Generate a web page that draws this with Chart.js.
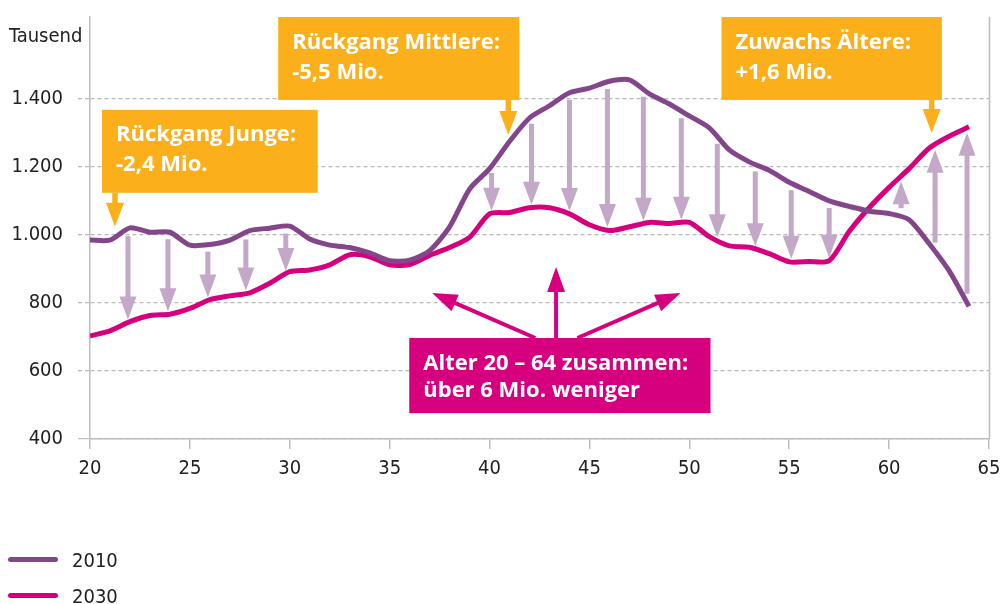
<!DOCTYPE html>
<html>
<head>
<meta charset="utf-8">
<script src="https://cdn.jsdelivr.net/npm/chart.js@4.4.1/dist/chart.umd.min.js"></script>
<style>
  html, body { margin: 0; padding: 0; background: #fff; }
  #wrap { position: relative; width: 1000px; height: 604px; overflow: hidden; }
  #legend { position: absolute; left: 0; top: 0; font-family: "Liberation Sans Narrow", "DejaVu Sans Condensed", "Open Sans", sans-serif; font-size: 20px; color: #222; }
  .item { position: absolute; left: 0; white-space: nowrap; }
  .swatch { position: absolute; left: 8px; width: 50px; height: 5px; border-radius: 3px; }
  .lbl { position: absolute; left: 72px; line-height: 22px; }
</style>
</head>
<body>
<div id="wrap">
  <canvas id="chart" width="1000" height="604"></canvas>
  <div id="legend"></div>
</div>
<script>
// Alter in Jahren
const ages = [20, 21, 22, 23, 24, 25, 26, 27, 28, 29, 30, 31, 32, 33, 34, 35, 36, 37, 38, 39, 40, 41,
  42, 43, 44, 45, 46, 47, 48, 49, 50, 51, 52, 53, 54, 55, 56, 57, 58, 59, 60, 61, 62, 63, 64];

// Bevölkerung je Altersjahr, in Tausend
const pop2010 = [985, 985, 1021, 1008, 1008, 970, 972, 985, 1013, 1020, 1026, 988, 970, 963, 947, 924,
  926, 954, 1024, 1135, 1195, 1275, 1344, 1380, 1418, 1432, 1452, 1456, 1415, 1385, 1350, 1315, 1250,
  1215, 1190, 1155, 1128, 1100, 1084, 1070, 1063, 1045, 975, 895, 790];
const pop2030 = [703, 718, 745, 763, 767, 784, 810, 821, 830, 858, 892, 897, 912, 942, 936, 912, 913,
  940, 963, 993, 1062, 1066, 1080, 1080, 1062, 1030, 1013, 1024, 1037, 1034, 1037, 995, 968, 964, 945,
  921, 922, 924, 1010, 1080, 1140, 1195, 1255, 1290, 1318];

const yTicks = [400, 600, 800, 1000, 1200, 1400];
const xTicks = [20, 25, 30, 35, 40, 45, 50, 55, 60, 65];

// Altersjahre, an denen die hellen Pfeile stehen
const arrowAges = [21.9, 23.9, 25.9, 27.8, 29.8, 40.1, 42.1, 44.0, 45.9, 47.7, 49.6, 51.4, 53.3, 55.1,
  57.0, 60.6, 62.3, 63.9];

const C2010 = '#84468a';
const C2030 = '#d6007f';
const ORANGE = '#fbb01b';
const LILAC = '#c4a8c8';
const GRID = '#b9b9b9';
const AXIS = '#bdbdbd';
const NARROW = '"Liberation Sans Narrow", "DejaVu Sans Condensed", "Open Sans", sans-serif';
const BOLD = '"Open Sans", "Noto Sans", sans-serif';

// Kästen (in Datenkoordinaten)
const notes = [
  { lines: ['Rückgang Junge:', '-2,4 Mio.'], x0: 20.6, x1: 31.4, y0: 1368, y1: 1124, ax: 21.25, tip: 1024 },
  { lines: ['Rückgang Mittlere:', '-5,5 Mio.'], x0: 29.42, x1: 41.49, y0: 1641, y1: 1397, ax: 40.94, tip: 1294 },
  { lines: ['Zuwachs Ältere:', '+1,6 Mio.'], x0: 51.61, x1: 62.64, y0: 1641, y1: 1397, ax: 62.13, tip: 1300 }
];
const total = { lines: ['Alter 20 – 64 zusammen:', 'über 6 Mio. weniger'], x0: 35.98, x1: 51.06, y0: 697, y1: 476,
  arrows: [[42.29, 697, 37.13, 829], [43.33, 697, 43.33, 906], [44.4, 697, 49.56, 829]] };

function valAt(arr, age) {
  let i = Math.floor(age - ages[0]);
  if (i < 0) i = 0;
  if (i >= arr.length - 1) return arr[arr.length - 1];
  const t = age - ages[i];
  return arr[i] + (arr[i + 1] - arr[i]) * t;
}

function arrow(ctx, x1, y1, x2, y2, w, headLen, headW, color) {
  const len = Math.hypot(x2 - x1, y2 - y1);
  ctx.save();
  ctx.translate(x1, y1);
  ctx.rotate(Math.atan2(y2 - y1, x2 - x1));
  ctx.fillStyle = color;
  ctx.fillRect(0, -w / 2, Math.max(0, len - headLen + 1), w);
  ctx.beginPath();
  ctx.moveTo(len, 0);
  ctx.lineTo(len - headLen, -headW / 2);
  ctx.lineTo(len - headLen, headW / 2);
  ctx.closePath();
  ctx.fill();
  ctx.restore();
}

function drawBox(ctx, x, y, n, color, lineGap) {
  const l = x.getPixelForValue(n.x0), r = x.getPixelForValue(n.x1);
  const t = y.getPixelForValue(n.y0), b = y.getPixelForValue(n.y1);
  ctx.fillStyle = color;
  ctx.fillRect(l, t, r - l, b - t);
  ctx.fillStyle = '#fff';
  ctx.font = 'bold 22px ' + BOLD;
  ctx.textAlign = 'left';
  ctx.textBaseline = 'alphabetic';
  n.lines.forEach((s, i) => ctx.fillText(s, l + 14, t + 31.5 + i * lineGap));
  return { l, r, t, b };
}

const annotations = {
  id: 'annotations',
  beforeDatasetsDraw(chart) {
    const { ctx, scales: { x, y } } = chart;
    arrowAges.forEach(a => {
      const px = x.getPixelForValue(a);
      const p10 = y.getPixelForValue(valAt(pop2010, a));
      const p30 = y.getPixelForValue(valAt(pop2030, a));
      if (p30 > p10) arrow(ctx, px, p10 + 7, px, p30 - 3, 5, 23, 17, LILAC);
      else arrow(ctx, px, p10 - 9, px, p30 + 5, 5, 23, 17, LILAC);
    });
  },
  afterDatasetsDraw(chart) {
    const { ctx, chartArea: ca, scales: { x, y } } = chart;
    ctx.save();
    // rechte Begrenzung
    ctx.strokeStyle = AXIS;
    ctx.lineWidth = 1.5;
    ctx.beginPath();
    ctx.moveTo(ca.right + 0.5, ca.top);
    ctx.lineTo(ca.right + 0.5, ca.bottom);
    ctx.stroke();

    notes.forEach(n => {
      const box = drawBox(ctx, x, y, n, ORANGE, 30);
      const ax = x.getPixelForValue(n.ax);
      arrow(ctx, ax, box.b, ax, y.getPixelForValue(n.tip), 5.5, 24, 18, ORANGE);
    });

    total.arrows.forEach(a => {
      arrow(ctx, x.getPixelForValue(a[0]), y.getPixelForValue(a[1]),
        x.getPixelForValue(a[2]), y.getPixelForValue(a[3]), 4, 25, 18, C2030);
    });
    drawBox(ctx, x, y, total, C2030, 27.5);

    // Einheit
    ctx.fillStyle = '#222';
    ctx.font = '20px ' + NARROW;
    ctx.textAlign = 'left';
    ctx.textBaseline = 'alphabetic';
    ctx.fillText('Tausend', 9, 42);
    ctx.restore();
  }
};

const chart = new Chart(document.getElementById('chart'), {
  type: 'line',
  data: {
    datasets: [
      { label: '2010', data: ages.map((a, i) => ({ x: a, y: pop2010[i] })), borderColor: C2010, backgroundColor: C2010 },
      { label: '2030', data: ages.map((a, i) => ({ x: a, y: pop2030[i] })), borderColor: C2030, backgroundColor: C2030 }
    ]
  },
  options: {
    responsive: false,
    animation: false,
    layout: { padding: { top: 17, right: 11, left: 0, bottom: 0 } },
    elements: {
      line: { borderWidth: 5, tension: 0.25, borderCapStyle: 'butt', borderJoinStyle: 'round' },
      point: { radius: 0 }
    },
    plugins: { legend: { display: false }, tooltip: { enabled: false } },
    scales: {
      x: {
        type: 'linear',
        min: 20,
        max: 65,
        afterBuildTicks: s => { s.ticks = xTicks.map(v => ({ value: v })); },
        afterFit: s => { s.height = 165; s.paddingLeft = 0; s.paddingRight = 0; },
        ticks: { color: '#222', font: { family: NARROW, size: 20 }, padding: 8, maxRotation: 0 },
        grid: { drawOnChartArea: false, color: AXIS, tickLength: 10, lineWidth: 1.5 },
        border: { color: AXIS, width: 1.5 }
      },
      y: {
        min: 400,
        max: 1641,
        afterBuildTicks: s => { s.ticks = yTicks.map(v => ({ value: v })); },
        afterFit: s => { s.width = 90; s.paddingTop = 0; s.paddingBottom = 0; },
        ticks: {
          color: '#222',
          font: { family: NARROW, size: 20 },
          padding: 15,
          callback: v => v.toLocaleString('de-DE')
        },
        grid: {
          color: GRID,
          lineWidth: 1.2,
          tickLength: 12,
          tickColor: c => c.tick && c.tick.value === 400 ? AXIS : GRID,
          tickBorderDash: c => c.tick && c.tick.value === 400 ? [] : [4, 3]
        },
        border: { color: AXIS, width: 1.5, dash: [4, 3] }
      }
    }
  },
  plugins: [annotations]
});

// Legende untereinander
const legend = document.getElementById('legend');
const rowTops = [548, 584];
chart.data.datasets.forEach((ds, i) => {
  const item = document.createElement('div');
  item.className = 'item';
  item.style.top = rowTops[i] + 'px';
  item.innerHTML = '<span class="swatch" style="top:9px;background:' + ds.borderColor + '"></span>' +
    '<span class="lbl" style="top:1px">' + ds.label + '</span>';
  legend.appendChild(item);
});
</script>
</body>
</html>
